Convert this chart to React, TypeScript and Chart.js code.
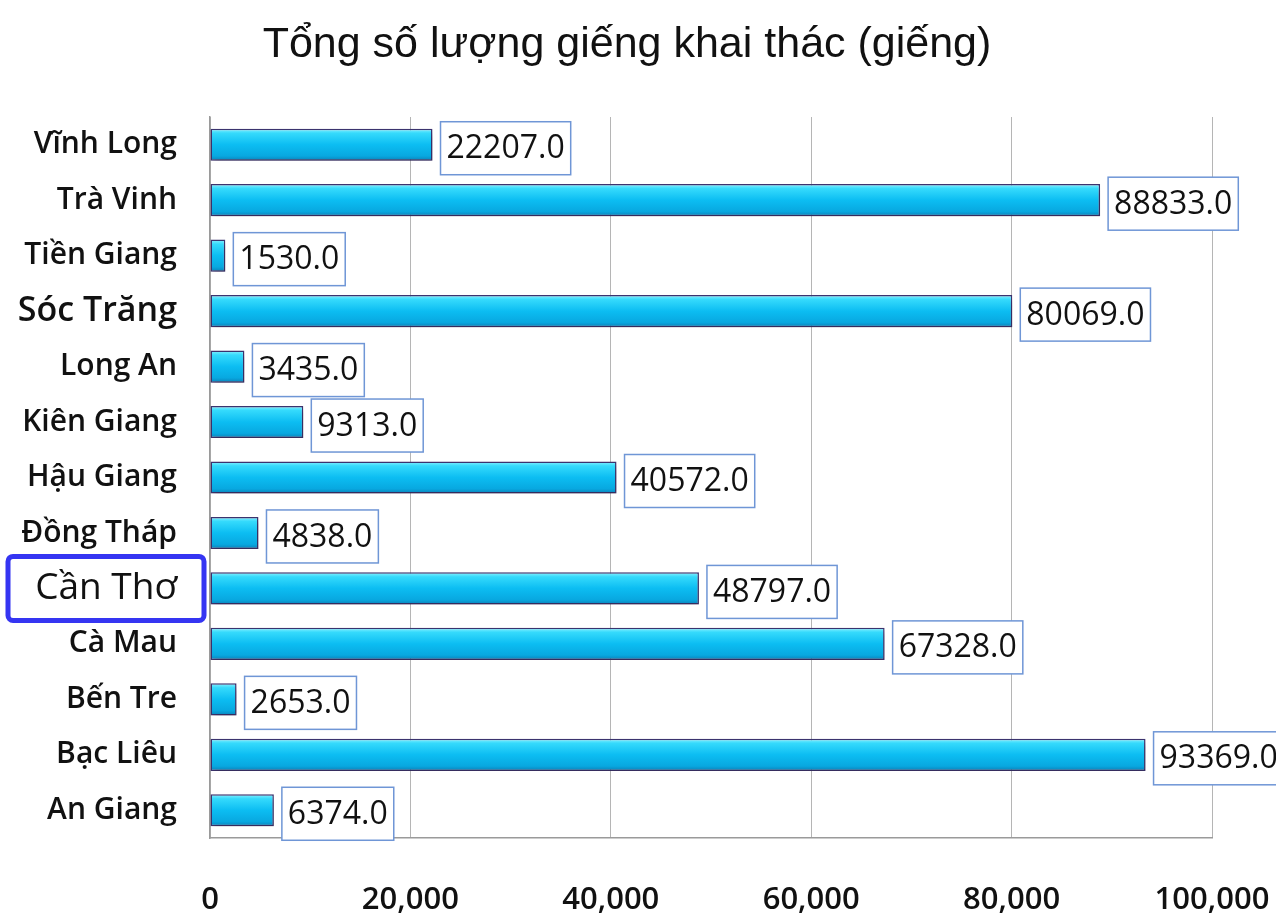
import { useEffect, useRef } from "react";
import { Chart, registerables } from "chart.js";

Chart.register(...registerables);

// Number of production wells per province (giếng)
const provinces = [
  "Vĩnh Long",
  "Trà Vinh",
  "Tiền Giang",
  "Sóc Trăng",
  "Long An",
  "Kiên Giang",
  "Hậu Giang",
  "Đồng Tháp",
  "Cần Thơ",
  "Cà Mau",
  "Bến Tre",
  "Bạc Liêu",
  "An Giang",
];
const wellCounts = [
  22207, 88833, 1530, 80069, 3435, 9313, 40572, 4838, 48797, 67328, 2653, 93369, 6374,
];
const xTickValues = [0, 20000, 40000, 60000, 80000, 100000];
const chartTitle = "Tổng số lượng giếng khai thác (giếng)";
const highlightedProvince = "Cần Thơ";

const LABEL_FONT = '"Open Sans", "DejaVu Sans", sans-serif';
const BAR_FRACTION = 0.58;

// Title drawn above the plot
const titlePlugin = {
  id: "wellTitle",
  afterDraw(chart: any) {
    const ctx = chart.ctx;
    ctx.save();
    ctx.font = '43px "Liberation Sans", Arial, sans-serif';
    ctx.fillStyle = "#111";
    ctx.textAlign = "center";
    ctx.textBaseline = "middle";
    ctx.fillText(chartTitle, 627, 45);
    ctx.restore();
  },
};

// Soft drop shadow under the bars, then boxed value labels
const barDecorPlugin = {
  id: "barDecor",
  beforeDatasetsDraw(chart: any) {
    const ctx = chart.ctx;
    ctx.save();
    ctx.shadowColor = "rgba(40, 30, 60, 0.35)";
    ctx.shadowBlur = 5;
    ctx.shadowOffsetX = 2;
    ctx.shadowOffsetY = 5;
  },
  afterDatasetsDraw(chart: any) {
    const ctx = chart.ctx;
    ctx.restore();
    const meta = chart.getDatasetMeta(0);
    ctx.save();
    ctx.font = `500 32px ${LABEL_FONT}`;
    ctx.textBaseline = "middle";
    ctx.textAlign = "left";
    meta.data.forEach((bar: any, i: number) => {
      const text = wellCounts[i].toFixed(1);
      const w = ctx.measureText(text).width;
      const left = bar.x + 8;
      const top = bar.y - 23;
      const bw = w + 12;
      const bh = 53;
      ctx.fillStyle = "#ffffff";
      ctx.fillRect(left, top, bw, bh);
      ctx.strokeStyle = "#6f96d6";
      ctx.lineWidth = 1.5;
      ctx.strokeRect(left, top, bw, bh);
      ctx.fillStyle = "#111";
      ctx.fillText(text, left + 6, top + bh / 2 + 1);
    });
    ctx.restore();
  },
};

// Frame around the highlighted province name
const highlightPlugin = {
  id: "highlightLabel",
  afterDraw(chart: any) {
    const idx = provinces.indexOf(highlightedProvince);
    if (idx < 0) return;
    const y = chart.scales.y.getPixelForValue(idx);
    const ctx = chart.ctx;
    ctx.save();
    ctx.strokeStyle = "#3535f2";
    ctx.lineWidth = 5;
    ctx.beginPath();
    ctx.roundRect(8, y - 32, 196, 64, 5);
    ctx.stroke();
    ctx.restore();
  },
};

const tickFont = (name: string) => {
  if (name === "Sóc Trăng") return { family: LABEL_FONT, size: 34, weight: "600" };
  if (name === "Cần Thơ") return { family: LABEL_FONT, size: 37, weight: "500" };
  return { family: LABEL_FONT, size: 30, weight: "600" };
};

export default function App() {
  const canvasRef = useRef<HTMLCanvasElement | null>(null);

  useEffect(() => {
    const canvas = canvasRef.current;
    if (!canvas) return;

    const barGradient = (c: any) => {
      const chart = c.chart;
      const area = chart.chartArea;
      if (!area) return "#12bdf0";
      const yScale = chart.scales.y;
      const cy = yScale.getPixelForValue(c.dataIndex);
      const half = ((area.bottom - area.top) / provinces.length) * BAR_FRACTION / 2;
      const g = chart.ctx.createLinearGradient(0, cy - half, 0, cy + half);
      g.addColorStop(0, "#8cf1ff");
      g.addColorStop(0.14, "#35dafc");
      g.addColorStop(0.5, "#0cbdf2");
      g.addColorStop(0.85, "#08a8e0");
      g.addColorStop(1, "#0a80b8");
      return g;
    };

    const chart = new Chart(canvas, {
      type: "bar",
      data: {
        labels: provinces,
        datasets: [
          {
            data: wellCounts,
            backgroundColor: barGradient,
            borderColor: "#3b336e",
            borderWidth: 1.5,
            borderSkipped: false,
            categoryPercentage: 1,
            barPercentage: BAR_FRACTION,
          },
        ],
      },
      options: {
        indexAxis: "y",
        animation: false,
        responsive: true,
        maintainAspectRatio: false,
        layout: { padding: { top: 117, right: 64, left: 0, bottom: 0 } },
        plugins: {
          legend: { display: false },
          title: { display: false },
          tooltip: { enabled: false },
        },
        scales: {
          x: {
            type: "linear",
            min: xTickValues[0],
            max: xTickValues[xTickValues.length - 1],
            afterBuildTicks: (scale: any) => {
              scale.ticks = xTickValues.map((v) => ({ value: v }));
            },
            afterFit: (scale: any) => {
              scale.height = 80;
              scale.paddingLeft = 0;
              scale.paddingRight = 0;
            },
            grid: { color: "#b5b5b5", lineWidth: 1, drawTicks: false },
            border: { display: true, color: "#9a9a9a", width: 1.5 },
            ticks: {
              padding: 44,
              color: "#111",
              font: { family: LABEL_FONT, size: 31, weight: "600" },
              callback: (v: any) => Number(v).toLocaleString("en-US"),
            },
          },
          y: {
            type: "category",
            afterFit: (scale: any) => {
              scale.width = 210;
              scale.paddingTop = 0;
              scale.paddingBottom = 0;
            },
            grid: { display: false, drawTicks: false },
            border: { display: true, color: "#9a9a9a", width: 1.5 },
            ticks: {
              padding: 33,
              color: "#111",
              font: (c: any) => tickFont(provinces[c.index]),
            },
          },
        },
      },
      plugins: [barDecorPlugin, titlePlugin, highlightPlugin],
    });

    return () => chart.destroy();
  }, []);

  return (
    <div
      style={{
        position: "absolute",
        left: 0,
        top: 0,
        width: 1276,
        height: 918,
        background: "#fff",
      }}
    >
      <canvas ref={canvasRef} />
    </div>
  );
}
